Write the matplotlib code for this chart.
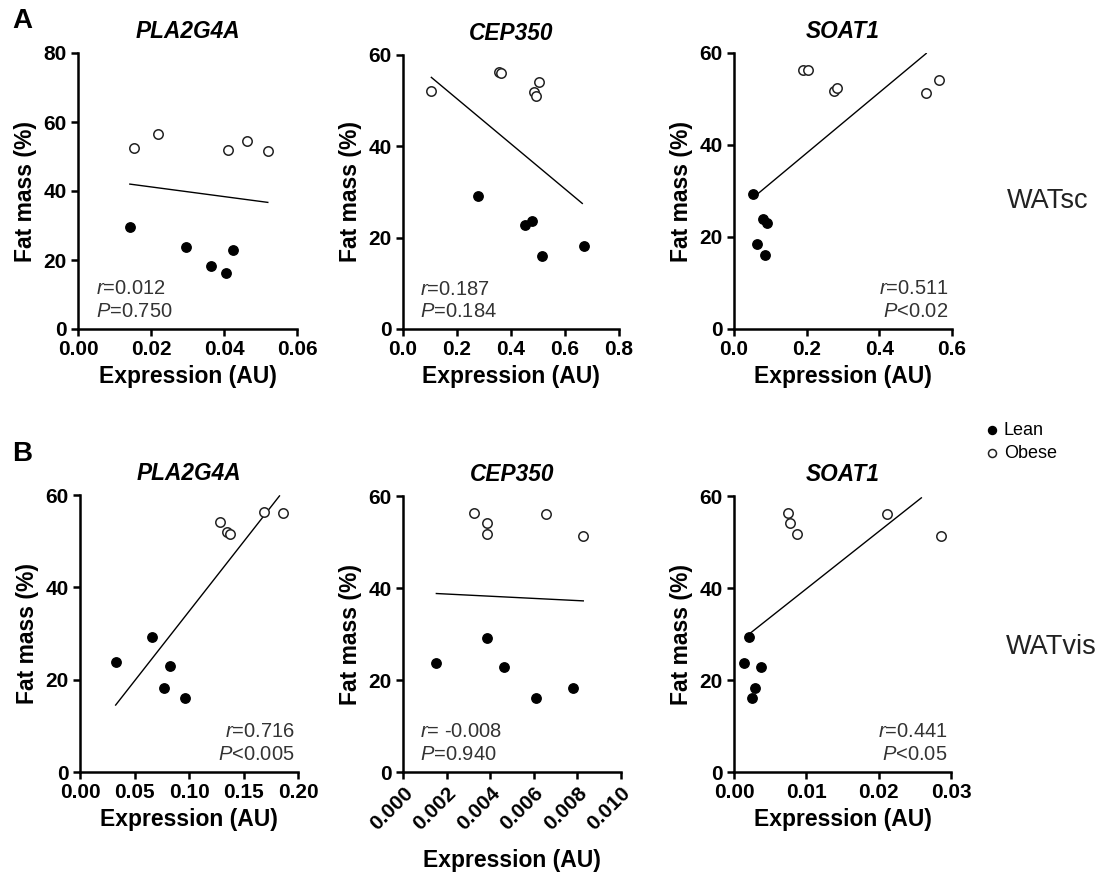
import matplotlib.pyplot as plt
from matplotlib.ticker import FormatStrFormatter

plt.rcParams['font.family'] = ['Liberation Sans', 'DejaVu Sans']
plt.rcParams['mathtext.fontset'] = 'custom'
plt.rcParams['mathtext.rm'] = 'Liberation Sans'
plt.rcParams['mathtext.it'] = 'Liberation Sans:italic'

# ---- data ----
# Panel A (WATsc)
a1_lean_x = [0.0142, 0.0297, 0.0364, 0.0405, 0.0426]
a1_lean_y = [29.5, 23.9, 18.4, 16.3, 23.0]
a1_obese_x = [0.0153, 0.0220, 0.0412, 0.0464, 0.0520]
a1_obese_y = [52.6, 56.6, 51.9, 54.4, 51.5]
a1_fit_x = [0.0142, 0.0520]
a1_fit_y = [42.0, 36.7]

a2_lean_x = [0.278, 0.453, 0.479, 0.516, 0.669]
a2_lean_y = [29.2, 22.8, 23.7, 16.0, 18.2]
a2_obese_x = [0.105, 0.356, 0.364, 0.504, 0.484, 0.494]
a2_obese_y = [52.2, 56.3, 56.1, 54.0, 51.8, 51.1]
a2_fit_x = [0.105, 0.664]
a2_fit_y = [55.1, 27.5]

a3_lean_x = [0.051, 0.079, 0.092, 0.0625, 0.086]
a3_lean_y = [29.3, 23.9, 23.1, 18.4, 16.1]
a3_obese_x = [0.191, 0.205, 0.276, 0.283, 0.529, 0.563]
a3_obese_y = [56.2, 56.4, 51.7, 52.3, 51.3, 54.2]
a3_fit_x = [0.061, 0.529]
a3_fit_y = [29.1, 59.9]

# Panel B (WATvis)
b1_lean_x = [0.0327, 0.0663, 0.0824, 0.0773, 0.0962]
b1_lean_y = [23.8, 29.3, 23.0, 18.3, 16.1]
b1_obese_x = [0.128, 0.135, 0.138, 0.169, 0.186]
b1_obese_y = [54.1, 51.9, 51.5, 56.3, 56.2]
b1_fit_x = [0.0327, 0.183]
b1_fit_y = [14.5, 59.8]

b2_lean_x = [0.00153, 0.00384, 0.00464, 0.00609, 0.00781]
b2_lean_y = [23.6, 29.2, 22.8, 16.1, 18.2]
b2_obese_x = [0.00325, 0.00387, 0.00387, 0.00654, 0.00827]
b2_obese_y = [56.3, 54.2, 51.7, 56.0, 51.3]
b2_fit_x = [0.00153, 0.00827]
b2_fit_y = [38.8, 37.2]

b3_lean_x = [0.0021, 0.0014, 0.0037, 0.0029, 0.0025]
b3_lean_y = [29.3, 23.6, 22.8, 18.2, 16.1]
b3_obese_x = [0.0075, 0.0077, 0.0087, 0.0211, 0.0286]
b3_obese_y = [56.3, 54.1, 51.7, 56.0, 51.3]
b3_fit_x = [0.0021, 0.0259]
b3_fit_y = [30.0, 59.6]

genes = ['PLA2G4A', 'CEP350', 'SOAT1']
stats_a = [('0.012', '=0.750'), ('0.187', '=0.184'), ('0.511', '<0.02')]
stats_b = [('0.716', '<0.005'), (' -0.008', '=0.940'), ('0.441', '<0.05')]

W, H = 1098, 872
fig = plt.figure(figsize=(W / 100, H / 100), dpi=100)


def make_ax(left, right, top, bottom):
    return fig.add_axes([left / W, 1 - bottom / H, (right - left) / W, (bottom - top) / H])


def panel(ax, lx, ly, ox, oy, fx, fy, gene, r, p, xmax, xstep, fmt, ymax, side, rot=False):
    ax.plot(fx, fy, color='black', lw=1.0)
    ax.scatter(lx, ly, s=46, color='black', zorder=3, clip_on=False, label='Lean')
    ax.scatter(ox, oy, s=46, facecolor='white', edgecolor='#222222', linewidth=1.1,
               zorder=3, clip_on=False, label='Obese')
    ax.set_xlim(0, xmax)
    ax.set_ylim(0, ymax)
    n = int(round(xmax / xstep))
    ax.set_xticks([i * xstep for i in range(n + 1)])
    ax.set_yticks(range(0, ymax + 1, 20))
    ax.xaxis.set_major_formatter(FormatStrFormatter(fmt))
    for s in ['top', 'right']:
        ax.spines[s].set_visible(False)
    for s in ['left', 'bottom']:
        ax.spines[s].set_linewidth(1.8)
    ax.tick_params(direction='out', length=5, width=1.8, labelsize=15, pad=3)
    for lab in ax.get_xticklabels() + ax.get_yticklabels():
        lab.set_fontweight('bold')
    if rot:
        for lab in ax.get_xticklabels():
            lab.set_rotation(45)
            lab.set_ha('right')
            lab.set_rotation_mode('anchor')
    ax.set_xlabel('Expression (AU)', fontsize=16.5, fontweight='bold',
                  labelpad=11 if rot else 4)
    ax.set_ylabel('Fat mass (%)', fontsize=16.5, fontweight='bold', labelpad=5)
    ax.text(0.5, 1.078, gene, transform=ax.transAxes, ha='center', va='center',
            fontsize=16.3, fontweight='bold', style='italic')
    if side == 'left':
        x0, ha = 0.08, 'left'
    else:
        x0, ha = 0.985, 'right'
    ax.text(x0, 0.145, r'$\it{r}$' + '=' + r, transform=ax.transAxes, ha=ha, va='center',
            fontsize=14.5, color='#333333')
    ax.text(x0, 0.063, r'$\it{P}$' + p, transform=ax.transAxes, ha=ha, va='center',
            fontsize=14.5, color='#333333')


# Row A
ax = make_ax(78, 297, 53, 329)
panel(ax, a1_lean_x, a1_lean_y, a1_obese_x, a1_obese_y, a1_fit_x, a1_fit_y,
      genes[0], *stats_a[0], 0.06, 0.02, '%.2f', 80, 'left')
ax = make_ax(403, 619, 55, 329)
panel(ax, a2_lean_x, a2_lean_y, a2_obese_x, a2_obese_y, a2_fit_x, a2_fit_y,
      genes[1], *stats_a[1], 0.8, 0.2, '%.1f', 60, 'left')
ax = make_ax(734, 952, 53, 329)
panel(ax, a3_lean_x, a3_lean_y, a3_obese_x, a3_obese_y, a3_fit_x, a3_fit_y,
      genes[2], *stats_a[2], 0.6, 0.2, '%.1f', 60, 'right')

# Row B
ax = make_ax(80, 298, 495, 772)
panel(ax, b1_lean_x, b1_lean_y, b1_obese_x, b1_obese_y, b1_fit_x, b1_fit_y,
      genes[0], *stats_b[0], 0.20, 0.05, '%.2f', 60, 'right')
ax = make_ax(403, 621, 496, 772)
panel(ax, b2_lean_x, b2_lean_y, b2_obese_x, b2_obese_y, b2_fit_x, b2_fit_y,
      genes[1], *stats_b[1], 0.010, 0.002, '%.3f', 60, 'left', rot=True)
ax = make_ax(734, 951, 496, 772)
panel(ax, b3_lean_x, b3_lean_y, b3_obese_x, b3_obese_y, b3_fit_x, b3_fit_y,
      genes[2], *stats_b[2], 0.03, 0.01, '%.2f', 60, 'right')

# legend
handles, labels = ax.get_legend_handles_labels()
fig.legend(handles, labels, loc='upper left', bbox_to_anchor=(974 / W, 1 - 415 / H),
           frameon=False, fontsize=13, handletextpad=0.05, handlelength=1.2,
           labelspacing=0.3, markerscale=0.85, borderaxespad=0)

fig.text(1007 / W, 1 - 201 / H, 'WATsc', fontsize=19.5, va='center', ha='left', color='#222222')
fig.text(1006 / W, 1 - 647 / H, 'WATvis', fontsize=19.5, va='center', ha='left', color='#222222')
fig.text(12 / W, 1 - 21 / H, 'A', fontsize=20, fontweight='bold', va='center', ha='left')
fig.text(12 / W, 1 - 454 / H, 'B', fontsize=20, fontweight='bold', va='center', ha='left')

fig.savefig('out.png', dpi=100, facecolor='white')
